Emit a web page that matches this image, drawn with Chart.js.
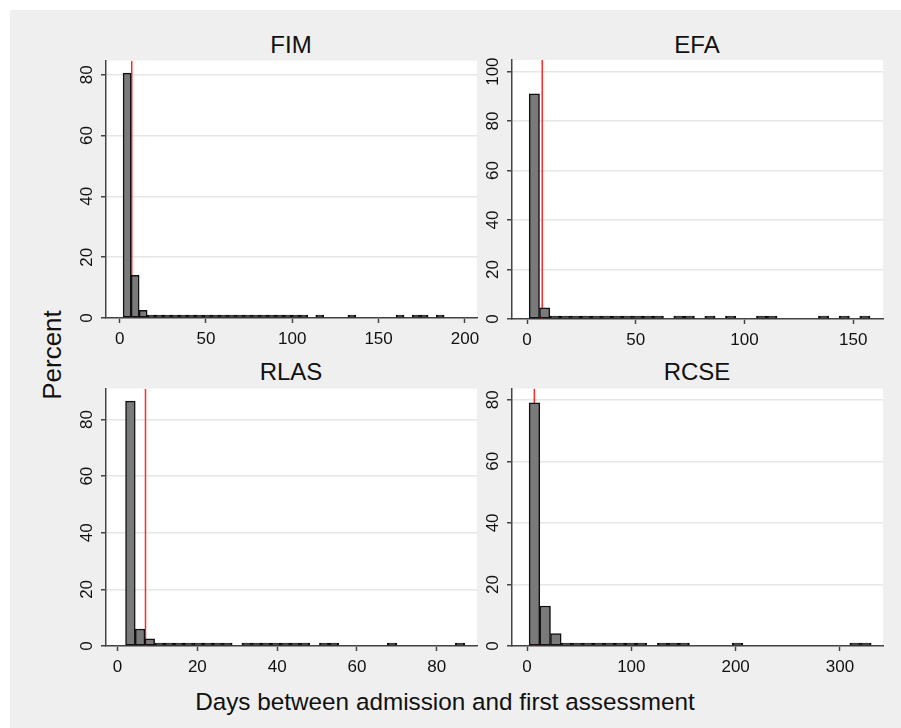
<!DOCTYPE html>
<html>
<head>
<meta charset="utf-8">
<script src="https://cdn.jsdelivr.net/npm/chart.js@4.4.1/dist/chart.umd.min.js"></script>
<style>
  html, body { margin: 0; padding: 0; background: #fff; }
  body { width: 901px; height: 728px; position: relative; overflow: hidden; font-family: "Liberation Sans", Arial, sans-serif; }
  #frame { position: absolute; left: 10px; top: 10px; right: 0; bottom: 0; background: #efefef; }
  canvas { position: absolute; }
  .lbl { position: absolute; transform: translate(-50%, -50%); white-space: nowrap; line-height: 1; color: #111; }
  .title { font-size: 24px; }
  #ytitle { font-size: 26px; transform: translate(-50%, -50%) rotate(-90deg); }
  #xtitle { font-size: 24.3px; }
</style>
</head>
<body>
<div id="frame"></div>

<div class="lbl title" style="left:291px;top:45px">FIM</div>
<div class="lbl title" style="left:697px;top:45px">EFA</div>
<div class="lbl title" style="left:291px;top:372px">RLAS</div>
<div class="lbl title" style="left:697px;top:372px">RCSE</div>
<div class="lbl" id="ytitle" style="left:52px;top:355px">Percent</div>
<div class="lbl" id="xtitle" style="left:445px;top:702px">Days between admission and first assessment</div>

<canvas id="fim" width="433" height="312" style="left:60px;top:46px"></canvas>
<canvas id="efa" width="433" height="313" style="left:466px;top:46px"></canvas>
<canvas id="rlas" width="433" height="312" style="left:60px;top:374px"></canvas>
<canvas id="rcse" width="433" height="312" style="left:466px;top:374px"></canvas>

<script>
// histogram bins: first bin edge and bin width (days), then percent per bin
// null = empty bin
const fimBinStart = 2, fimBinWidth = 4.65;
const fimPercent = [80.5, 14, 2.5, 0.6, 0.3, 0.2, 0.2, 0.15, 0.2, 0.15,
  0.1, 0.15, 0.1, 0.1, 0.1, 0.1, 0.1, 0.1, 0.1, 0.1,
  0.1, 0.1, 0.1, null, 0.1, null, null, null, 0.1, null,
  null, null, null, null, 0.1, null, 0.1, 0.1, null, 0.1];

const efaBinStart = 1, efaBinWidth = 4.75;
const efaPercent = [91, 4.5, 0.3, 0.2, 0.2, 0.1, 0.1, 0.1, 0.1, 0.1,
  0.1, 0.1, 0.1, null, 0.1, 0.1, null, 0.1, null, 0.1,
  null, null, 0.1, 0.1, null, null, null, null, 0.1, null,
  0.1, null, 0.1];

const rlasBinStart = 2, rlasBinWidth = 2.43;
const rlasPercent = [86.5, 6, 2.5, 0.4, 0.5, 0.3, 0.2, 0.2, 0.2, 0.2,
  0.1, null, 0.1, 0.1, 0.1, 0.1, 0.1, 0.1, 0.1, null,
  0.1, 0.1, null, null, null, null, null, 0.1, null, null,
  null, null, null, null, 0.1];

const rcseBinStart = 2, rcseBinWidth = 10.25;
const rcsePercent = [79, 13, 4, 0.6, 0.5, 0.2, 0.2, 0.2, 0.2, 0.2,
  0.1, null, 0.1, 0.1, 0.1, null, null, null, null, 0.1,
  null, null, null, null, null, null, null, null, null, null,
  0.1, 0.1];

// reference line (days)
const cutoffDays = [7, 7, 7, 7];

const fimXTicks = [0, 50, 100, 150, 200];
const efaXTicks = [0, 50, 100, 150];
const rlasXTicks = [0, 20, 40, 60, 80];
const rcseXTicks = [0, 100, 200, 300];

const fimYTicks = [0, 20, 40, 60, 80];
const efaYTicks = [0, 20, 40, 60, 80, 100];
const rlasYTicks = [0, 20, 40, 60, 80];
const rcseYTicks = [0, 20, 40, 60, 80];

const FONT = 'Liberation Sans';
const AXIS = '#444';

// white plot region, like Stata's plotregion
const plotBg = {
  id: 'plotBg',
  beforeDraw(chart) {
    const { ctx, chartArea: a } = chart;
    ctx.save();
    ctx.fillStyle = '#fff';
    ctx.fillRect(a.left, a.top, a.right - a.left, a.bottom - a.top);
    ctx.restore();
  }
};

function makePanel(id, binStart, binWidth, percent, xTicks, yTicks, xMin, xMax, yMax, cutoff, yPad) {
  const bars = percent.map((v, i) => ({ x: binStart + binWidth * (i + 0.5), y: v }));

  new Chart(document.getElementById(id), {
    type: 'bar',
    data: {
      datasets: [
        {
          type: 'bar',
          data: bars,
          // the outline swallows the fill on the near-zero bins
          backgroundColor: c => (c.raw && c.raw.y < 1 ? '#111' : '#7a7a7a'),
          borderColor: '#111',
          borderWidth: 1.5,
          borderSkipped: false,
          barPercentage: 1,
          categoryPercentage: 1,
          minBarLength: 3,
          order: 1
        },
        {
          type: 'line',
          data: [{ x: cutoff, y: 0 }, { x: cutoff, y: yMax }],
          borderColor: '#ff2a2a',
          borderWidth: 1.5,
          pointRadius: 0,
          order: 2
        }
      ]
    },
    options: {
      responsive: false,
      animation: false,
      devicePixelRatio: 1,
      layout: { padding: { left: 0, top: 14, right: 16, bottom: 0 } },
      plugins: { legend: { display: false }, tooltip: { enabled: false }, title: { display: false } },
      scales: {
        x: {
          type: 'linear',
          min: xMin,
          max: xMax,
          offset: false,
          afterBuildTicks: s => { s.ticks = xTicks.map(v => ({ value: v })); },
          afterFit: s => { s.height = 40; },
          grid: { drawOnChartArea: false, drawTicks: true, tickLength: 5, tickColor: AXIS, tickWidth: 1.5, offset: false },
          border: { color: AXIS, width: 1.5 },
          ticks: { color: '#111', font: { family: FONT, size: 17 }, padding: 6, maxRotation: 0, autoSkip: false }
        },
        y: {
          min: 0,
          max: yMax,
          afterBuildTicks: s => { s.ticks = yTicks.map(v => ({ value: v })); },
          afterFit: s => { s.width = 46; },
          grid: { color: '#e6e6e6', lineWidth: 1.5, tickLength: 5, tickColor: AXIS, tickWidth: 1.5 },
          border: { color: AXIS, width: 1.5 },
          ticks: {
            color: '#111', font: { family: FONT, size: 17 }, padding: yPad,
            minRotation: 90, maxRotation: 90, crossAlign: 'center', autoSkip: false
          }
        }
      }
    },
    plugins: [plotBg]
  });
}

makePanel('fim', fimBinStart, fimBinWidth, fimPercent, fimXTicks, fimYTicks, -7.9, 207, 84.6, cutoffDays[0], 4.5);
makePanel('efa', efaBinStart, efaBinWidth, efaPercent, efaXTicks, efaYTicks, -6.9, 163.7, 104.7, cutoffDays[1], 0);
makePanel('rlas', rlasBinStart, rlasBinWidth, rlasPercent, rlasXTicks, rlasYTicks, -2.9, 90.1, 90.9, cutoffDays[2], 4.5);
makePanel('rcse', rcseBinStart, rcseBinWidth, rcsePercent, rcseXTicks, rcseYTicks, -14.4, 341.3, 83.6, cutoffDays[3], 4.5);
</script>
</body>
</html>
